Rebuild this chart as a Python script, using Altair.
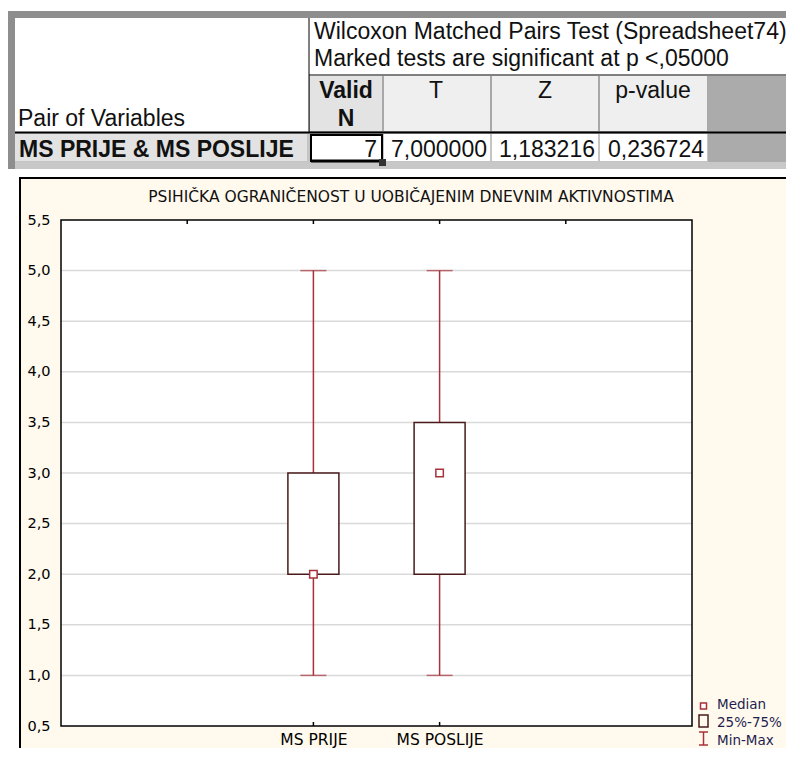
import altair as alt
import pandas as pd

# ---------------- data ----------------
categories = ["MS PRIJE", "MS POSLIJE"]
mins = [1.0, 1.0]
q1s = [2.0, 2.0]
medians = [2.0, 3.0]
q3s = [3.0, 3.5]
maxs = [5.0, 5.0]

y_ticks = [0.5, 1.0, 1.5, 2.0, 2.5, 3.0, 3.5, 4.0, 4.5, 5.0, 5.5]
grid_values = [1.0, 1.5, 2.0, 2.5, 3.0, 3.5, 4.0, 4.5, 5.0]
x_domain = [" ", "MS PRIJE", "MS POSLIJE", "  "]

chart_title = "PSIHIČKA OGRANIČENOST U UOBIČAJENIM DNEVNIM  AKTIVNOSTIMA"
legend_labels = ["Median", "25%-75%", "Min-Max"]

test_title = "Wilcoxon Matched Pairs Test (Spreadsheet74)"
test_note = "Marked tests are significant at p <,05000"
row_header = "Pair of Variables"
pair_label = "MS PRIJE & MS POSLIJE"
col_headers = ["T", "Z", "p-value"]
valid_n = [7]
t_stat = [7.000000]
z_stat = [1.183216]
p_value = [0.236724]

# ---------------- layout ----------------
SVG_W, SVG_H = 778, 740
W, H = 631, 506
OX, OY = 61, 220  # page position of plot origin
FONT = "Liberation Sans"
CFONT = "DejaVu Sans"
WH = "#a8323a"
BOXC = "#4a1a1a"
CREAM = "#fff9ee"
TDY = -3  # vertical shift of the table block

one = pd.DataFrame({"k": [0]})


def prect(x1, y1, x2, y2, dy=0, **mark):
    return alt.Chart(one).mark_rect(**mark).encode(
        x=alt.value(x1 - OX), x2=alt.value(x2 - OX),
        y=alt.value(y1 + dy - OY), y2=alt.value(y2 + dy - OY))


def pline(x1, y1, x2, y2, dy=0, **mark):
    return alt.Chart(one).mark_rule(**mark).encode(
        x=alt.value(x1 - OX), x2=alt.value(x2 - OX),
        y=alt.value(y1 + dy - OY), y2=alt.value(y2 + dy - OY))


def ptext(txt, x, y, dy=0, **mark):
    opts = dict(font=FONT, baseline="alphabetic", color="#111111", align="left")
    opts.update(mark)
    return alt.Chart(one).mark_text(text=txt, **opts).encode(
        x=alt.value(x - OX), y=alt.value(y + dy - OY))


def num(v, d=6):
    return f"{v:.{d}f}".replace(".", ",")


TF = 23
# ---------------- table ----------------
table = [
    prect(7, 14, 800, 172, TDY, fill="#8e8e8e"),
    prect(15, 21, 800, 135, TDY, fill="white"),
    prect(309, 79, 708, 135, TDY, fill="#a8a8a8"),
    prect(310, 79, 382, 134, TDY, fill="#e3e3e3"),
    prect(384, 79, 490, 134, TDY, fill="#efefef"),
    prect(492, 79, 598, 134, TDY, fill="#efefef"),
    prect(600, 79, 707, 134, TDY, fill="#efefef"),
    prect(708, 79, 800, 165, TDY, fill="#ababab"),
    prect(15, 136, 708, 165, TDY, fill="#c4c4c4"),
    prect(15, 137, 307, 164, TDY, fill="#e2e2e2"),
    prect(310, 137, 382, 164, TDY, fill="white"),
    prect(384, 137, 490, 164, TDY, fill="white"),
    prect(492, 137, 598, 164, TDY, fill="white"),
    prect(600, 137, 707, 164, TDY, fill="white"),
    prect(15, 165, 800, 172, TDY, fill="#c8c8c8"),
    pline(309, 21, 309, 135, TDY, color="black", strokeWidth=1),
    pline(309, 78, 800, 78, TDY, color="black", strokeWidth=1),
    pline(15, 135.5, 800, 135.5, TDY, color="black", strokeWidth=2),
    prect(311, 138, 382, 164, TDY, fill="transparent", stroke="black", strokeWidth=2),
    pline(311, 164, 383, 164, TDY, color="black", strokeWidth=3),
    prect(379, 162, 386, 169, TDY, fill="#333333"),
    ptext(test_title, 314, 42, TDY, fontSize=TF),
    ptext(test_note, 314, 69, TDY, fontSize=TF),
    ptext(row_header, 18, 129, TDY, fontSize=TF),
    ptext("Valid", 346, 101, TDY, fontSize=TF, fontWeight="bold", align="center"),
    ptext("N", 346, 129, TDY, fontSize=TF, fontWeight="bold", align="center"),
    ptext(col_headers[0], 436, 101, TDY, fontSize=TF, align="center"),
    ptext(col_headers[1], 545, 101, TDY, fontSize=TF, align="center"),
    ptext(col_headers[2], 653, 101, TDY, fontSize=TF, align="center"),
    ptext(pair_label, 19, 160, TDY, fontSize=TF, fontWeight="bold"),
    ptext(str(valid_n[0]), 377, 160, TDY, fontSize=TF, align="right"),
    ptext(num(t_stat[0]), 487, 160, TDY, fontSize=TF, align="right"),
    ptext(num(z_stat[0]), 595, 160, TDY, fontSize=TF, align="right"),
    ptext(num(p_value[0]), 704, 160, TDY, fontSize=TF, align="right"),
]

# ---------------- chart panel ----------------
panel = [
    prect(20, 178, 820, 790, fill=CREAM, stroke="black", strokeWidth=2),
    alt.Chart(one).mark_rect(fill="white").encode(
        x=alt.value(0), x2=alt.value(W), y=alt.value(0), y2=alt.value(H)),
]

df = pd.DataFrame({"cat": categories, "min": mins, "q1": q1s,
                   "median": medians, "q3": q3s, "max": maxs})
grid_df = pd.DataFrame({"v": grid_values})
dom_df = pd.DataFrame({"cat": x_domain})

xscale = alt.Scale(type="point", domain=x_domain, padding=1)
yscale = alt.Scale(domain=[0.5, 5.5], nice=False, zero=False)
xaxis = alt.Axis(title=None, domain=False, ticks=False, grid=False,
                 labelPadding=6, labelFontSize=15.5, labelFont=CFONT,
                 labelColor="black", labelAngle=0, zindex=2)
yaxis = alt.Axis(title=None, domain=False, ticks=False, grid=False,
                 values=y_ticks, labelPadding=11, labelFontSize=14.5,
                 labelFont=CFONT, labelColor="black", zindex=2,
                 labelExpr="replace(format(datum.value, '.1f'), '.', ',')")


def X(field="cat"):
    return alt.X(f"{field}:N", scale=xscale, axis=xaxis)


def Y(field):
    return alt.Y(f"{field}:Q", scale=yscale, axis=yaxis)


grid = alt.Chart(grid_df).mark_rule(color="#d9d9d9", strokeWidth=1.5).encode(
    y=Y("v"), x=alt.value(0), x2=alt.value(W))

whisk = alt.Chart(df).mark_rule(color=WH, strokeWidth=1.5).encode(
    x=X(), y=Y("min"), y2="max")
cap_lo = alt.Chart(df).mark_tick(color=WH, size=26, thickness=1.5).encode(
    x=X(), y=Y("min"))
cap_hi = alt.Chart(df).mark_tick(color=WH, size=26, thickness=1.5).encode(
    x=X(), y=Y("max"))
box = alt.Chart(df).mark_bar(size=51, fill="white", stroke=BOXC,
                             strokeWidth=1.5).encode(
    x=X(), y=Y("q1"), y2="q3")
med = alt.Chart(df).mark_square(size=56, fill="white", stroke=WH,
                                strokeWidth=1.5, opacity=1).encode(
    x=X(), y=Y("median"))

frame = alt.Chart(one).mark_rect(fill="transparent", stroke="black",
                                 strokeWidth=1.5).encode(
    x=alt.value(0), x2=alt.value(W), y=alt.value(0), y2=alt.value(H))

top_ticks = alt.Chart(dom_df).mark_rule(color="black", strokeWidth=1.5).encode(
    x=X(), y=alt.value(0), y2=alt.value(4))
bot_ticks = alt.Chart(df).mark_rule(color="black", strokeWidth=1.5).encode(
    x=X(), y=alt.value(H), y2=alt.value(H - 4))

title = ptext(chart_title, 411, 202, font=CFONT, fontSize=15.5, align="center")

LC = "#1e1e50"
LF = 13.5
legend = [
    alt.Chart(one).mark_square(size=36, fill="white", stroke=WH,
                               strokeWidth=1.5, opacity=1).encode(
        x=alt.value(703.5 - OX), y=alt.value(706 - OY)),
    prect(699, 715, 708, 727, fill="transparent", stroke=BOXC, strokeWidth=1.5),
    pline(703.5, 732, 703.5, 745, color=WH, strokeWidth=1.5),
    pline(699, 732, 708, 732, color=WH, strokeWidth=1.5),
    pline(699, 745, 708, 745, color=WH, strokeWidth=1.5),
    ptext(legend_labels[0], 717, 709, font=CFONT, fontSize=LF, color=LC),
    ptext(legend_labels[1], 717, 727, font=CFONT, fontSize=LF, color=LC),
    ptext(legend_labels[2], 717, 745, font=CFONT, fontSize=LF, color=LC),
]

chart = alt.layer(
    *table, *panel, grid, whisk, cap_lo, cap_hi, box, med, frame,
    top_ticks, bot_ticks, title, *legend
).properties(
    width=W, height=H,
    autosize=alt.AutoSizeParams(type="none"),
    padding={"left": OX - 8, "top": OY - 8, "right": SVG_W - (OX - 8) - W,
             "bottom": SVG_H - (OY - 8) - H},
    background="white",
).configure_view(stroke=None)

chart.save("out.html", embed_options={"renderer": "svg", "actions": False})
